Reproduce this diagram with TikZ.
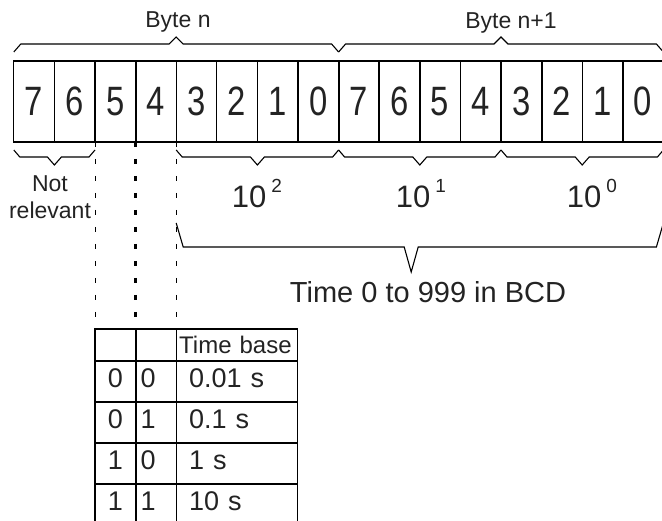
\documentclass[tikz,border=0pt]{standalone}
\usepackage{fontspec}
\usepackage{graphicx}
\setmainfont{Liberation Sans}
\usetikzlibrary{calc, positioning}
\definecolor{inkgray}{RGB}{35,35,35}

\newcommand{\bitfont}{\fontsize{41}{41}\selectfont}
\newcommand{\labelfont}{\fontsize{23}{27}\selectfont}
\newcommand{\decfont}{\fontsize{31}{31}\selectfont}
\newcommand{\timefont}{\fontsize{29}{29}\selectfont}
\newcommand{\tabfont}{\fontsize{27}{27}\selectfont}
\newcommand{\headfont}{\fontsize{24}{24}\selectfont}
\newcommand{\bitdigit}[1]{\scalebox{0.8}[1]{#1}}
\newcommand{\decade}[1]{10\hspace{5pt}\raisebox{15pt}{\fontsize{19}{19}\selectfont #1}}

% angular braces above / below a run of bit cells
\newcommand{\bracetop}[2]{%
  \draw[bracket] let \p1=(#1.north west), \p2=(#2.north east) in
    (\x1,\y1+9pt) -- (\x1+7pt,\y1+17pt) -- ({(\x1+\x2)/2-7pt},\y1+17pt)
    -- ({(\x1+\x2)/2},\y1+24pt) -- ({(\x1+\x2)/2+7pt},\y1+17pt)
    -- (\x2-7pt,\y1+17pt) -- (\x2,\y1+9pt);}
\newcommand{\bracebot}[2]{%
  \draw[bracket] let \p1=(#1.south west), \p2=(#2.south east) in
    (\x1,\y1-8pt) -- (\x1+6pt,\y1-15pt) -- ({(\x1+\x2)/2-7pt},\y1-15pt)
    -- ({(\x1+\x2)/2},\y1-23pt) -- ({(\x1+\x2)/2+7pt},\y1-15pt)
    -- (\x2-6pt,\y1-15pt) -- (\x2,\y1-8pt);}

\begin{document}
\begin{tikzpicture}[x=1pt, y=-1pt,
    bitcell/.style={draw, line width=1.1pt, outer sep=0pt, inner sep=0pt,
      minimum width=40.6pt, minimum height=81pt, font=\bitfont, text=inkgray},
    heavy/.style={line width=1.8pt},
    bracket/.style={line width=1.1pt, line join=miter},
    guide/.style={line width=1pt, dash pattern=on 5pt off 12pt},
    guidebold/.style={line width=2.4pt, dash pattern=on 5pt off 12pt},
    captext/.style={font=\labelfont, text=inkgray, inner sep=0pt},
    tabcell/.style={draw, line width=1.1pt, outer sep=0pt, minimum height=41pt,
      font=\tabfont, text=inkgray, text height=20pt, text depth=7pt}
  ]
  \useasboundingbox (0,0) rectangle (662,521);
  \clip (0,0) rectangle (662,521);

  % the two bytes
  \foreach \b in {7,...,0}
    \node[bitcell] (n\b) at ({13.8+40.6*(7.5-\b)},101.5) {\bitdigit{\b}};
  \foreach \b in {7,...,0}
    \node[bitcell] (m\b) at ({13.8+40.6*(15.5-\b)},101.5) {\bitdigit{\b}};
  \draw[heavy] (n5.north east) -- (n5.south east);
  \draw[heavy] (m7.north west) -- (m7.south west);
  \foreach \b in {7,6,3,1}
    \draw[heavy] (m\b.north east) -- (m\b.south east);

  % braces and labels
  \bracetop{n7}{n0}
  \bracetop{m7}{m0}
  \bracebot{n7}{n6}
  \bracebot{n3}{n0}
  \bracebot{m7}{m4}
  \bracebot{m3}{m0}
  \draw[bracket] let \p1=(n3.south west), \p2=(m0.south east) in
    (\x1,\y1-81pt) -- (\x1+7pt,\y1-105pt) -- (\x1+228pt,\y1-105pt)
    -- (\x1+235pt,\y1-130pt) -- (\x1+242pt,\y1-105pt)
    -- (\x2-7pt,\y1-105pt) -- (\x2,\y1-81pt);

  \node[captext, anchor=base] (byten) at (178,28) {Byte n};
  \node[captext, anchor=base] (bytem) at (511,29) {Byte n+1};
  \node[captext, align=center] (notrel) at (50,197) {Not\\relevant};
  \node[captext, font=\decfont, anchor=base] (dec2) at (257,208) {\decade{2}};
  \node[captext, font=\decfont, anchor=base] (dec1) at (421,208) {\decade{1}};
  \node[captext, font=\decfont, anchor=base] (dec0) at (592,208) {\decade{0}};
  \node[captext, font=\timefont, anchor=base] (range) at (428,303) {Time 0 to 999 in BCD};

  % time base table
  \coordinate (tabtop) at (0,345);
  \node[tabcell, minimum width=40.6pt, minimum height=32pt, inner sep=0pt] (a0) at (n5 |- tabtop) {};
  \node[tabcell, minimum width=40.6pt, minimum height=32pt, inner sep=0pt, right=0pt of a0] (b0) {};
  \node[tabcell, font=\headfont, minimum height=32pt, text width=115pt, inner xsep=3pt,
    inner ysep=0pt, text height=17pt, text depth=0pt, align=left, right=0pt of b0] (t0) {Time base};
  \foreach \hi/\lo/\base [count=\r, remember=\r as \q (initially 0)] in
      {0/0/0.01 s, 0/1/0.1 s, 1/0/1 s, 1/1/10 s} {
    \node[tabcell, minimum width=40.6pt, inner sep=0pt, below=0pt of a\q] (a\r) {\hi};
    \node[tabcell, text width=30.6pt, inner xsep=5pt, inner ysep=0pt, align=left, right=0pt of a\r] (b\r) {\lo};
    \node[tabcell, text width=95pt, inner xsep=13pt, inner ysep=0pt, align=left, right=0pt of b\r] (t\r) {\base};
  }
  \draw[heavy] (a0.north east) -- (a4.south east);
  \draw[heavy] (a2.north west) -- (t2.north east);
  \draw[heavy] (a3.north west) -- (t3.north east);

  % guide lines from the time base bits
  \draw[guide] (n5.south west) -- (a0.north west);
  \draw[guidebold] (n5.south east) -- (a0.north east);
  \draw[guide] (n4.south east) -- (b0.north east);
\end{tikzpicture}
\end{document}
